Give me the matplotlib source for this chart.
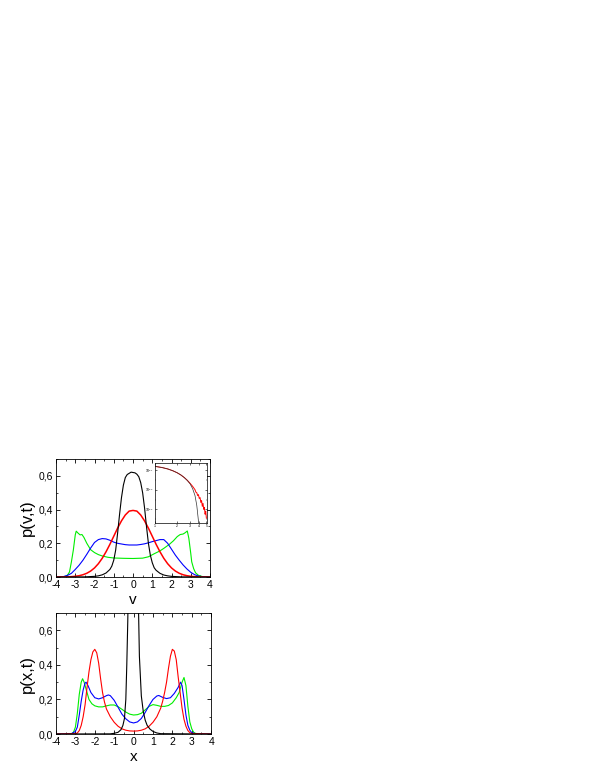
import numpy as np
import matplotlib
matplotlib.use("Agg")
import matplotlib.pyplot as plt
from matplotlib.ticker import FuncFormatter, MultipleLocator, FixedLocator, NullFormatter

plt.rcParams['font.family'] = ['Liberation Sans', 'DejaVu Sans']
plt.rcParams['axes.unicode_minus'] = False

# ---------------- top panel: p(v,t) ----------------
v_black = [-4, -2.5, -2.0, -1.8, -1.6, -1.4, -1.2, -1.1, -1.0, -0.9, -0.8, -0.7, -0.6, -0.5, -0.4, -0.3, -0.2, -0.1, 0.0,
           0.1, 0.2, 0.3, 0.4, 0.5, 0.6, 0.7, 0.8, 0.9, 1.0, 1.1, 1.2, 1.4, 1.6, 1.8, 2.0, 2.5, 4]
p_black = [0, 0.001, 0.004, 0.007, 0.013, 0.024, 0.045, 0.065, 0.10, 0.16, 0.26, 0.37, 0.47, 0.545, 0.59, 0.608, 0.615, 0.622, 0.62,
           0.618, 0.61, 0.595, 0.56, 0.50, 0.41, 0.30, 0.20, 0.13, 0.085, 0.055, 0.04, 0.022, 0.012, 0.007, 0.004, 0.001, 0]

v_red = [-4.0, -3.8, -3.6, -3.4, -3.2, -3.0, -2.8, -2.6, -2.4, -2.2, -2.0, -1.8, -1.6, -1.4, -1.2, -1.0, -0.8, -0.6, -0.4, -0.2, 0.0,
         0.2, 0.4, 0.6, 0.8, 1.0, 1.2, 1.4, 1.6, 1.8, 2.0, 2.2, 2.4, 2.6, 2.8, 3.0, 3.2, 3.4, 3.6, 3.8, 4.0]
p_red = [0.0001, 0.0003, 0.0006, 0.0012, 0.0024, 0.0044, 0.0079, 0.0136, 0.0224, 0.0355, 0.054, 0.079, 0.111, 0.150, 0.194, 0.242,
         0.290, 0.333, 0.368, 0.391, 0.395, 0.391, 0.368, 0.333, 0.290, 0.242, 0.194, 0.150, 0.111, 0.079, 0.054, 0.0355, 0.0224,
         0.0136, 0.0079, 0.0044, 0.0024, 0.0012, 0.0006, 0.0003, 0.0001]

v_blue = [-4.0, -3.6, -3.4, -3.2, -3.0, -2.8, -2.6, -2.4, -2.2, -2.0, -1.8, -1.6, -1.4, -1.2, -1.0, -0.8, -0.6, -0.4, -0.2, 0.0,
          0.2, 0.4, 0.6, 0.8, 1.0, 1.2, 1.4, 1.6, 1.8, 2.0, 2.2, 2.4, 2.6, 2.8, 3.0, 3.2, 3.4, 3.6, 4.0]
p_blue = [0, 0.003, 0.01, 0.022, 0.045, 0.07, 0.10, 0.135, 0.172, 0.205, 0.222, 0.228, 0.226, 0.218, 0.207, 0.20, 0.196, 0.192, 0.19, 0.19,
          0.19, 0.193, 0.197, 0.203, 0.21, 0.216, 0.222, 0.222, 0.20, 0.165, 0.13, 0.10, 0.072, 0.048, 0.028, 0.014, 0.006, 0.002, 0]

v_green = [-4.0, -3.6, -3.5, -3.4, -3.3, -3.2, -3.1, -3.0, -2.95, -2.85, -2.75, -2.65, -2.55, -2.4, -2.2, -2.0, -1.8, -1.6, -1.3,
           -1.0, -0.5, 0.0, 0.5, 0.8, 1.1, 1.4, 1.6, 1.9, 2.1, 2.3, 2.45, 2.6, 2.7, 2.82, 2.9, 3.0, 3.05, 3.15, 3.25, 3.4, 3.6, 4.0]
p_green = [0, 0.002, 0.005, 0.012, 0.03, 0.09, 0.16, 0.25, 0.272, 0.26, 0.25, 0.252, 0.235, 0.20, 0.162, 0.145, 0.133, 0.125, 0.117,
           0.113, 0.111, 0.11, 0.112, 0.12, 0.138, 0.155, 0.17, 0.195, 0.215, 0.24, 0.252, 0.255, 0.262, 0.273, 0.23, 0.14, 0.09, 0.05,
           0.025, 0.01, 0.003, 0]

# ---------------- inset: log-log tail ----------------
vi_red = [1.0, 1.25, 1.5, 1.75, 2.0, 2.25, 2.5, 2.75, 3.0, 3.25, 3.5, 3.6, 3.7, 3.8, 3.9, 4.0, 4.1, 4.2, 4.3, 4.4, 4.5, 4.6, 4.7,
          4.8, 4.9, 5.0]
lp_red = [-0.62, -0.74, -0.89, -1.07, -1.27, -1.50, -1.76, -2.04, -2.35, -2.66, -3.0, -3.25, -3.3, -3.6, -3.5, -3.9, -3.8, -4.3,
          -4.1, -4.7, -4.4, -5.0, -4.8, -5.5, -5.2, -5.9]
vi_black = [1.0, 1.25, 1.5, 1.75, 2.0, 2.25, 2.5, 2.75, 3.0, 3.25, 3.5, 3.7, 3.85, 3.95]
lp_black = [-0.62, -0.74, -0.89, -1.07, -1.27, -1.50, -1.76, -2.06, -2.40, -2.90, -3.60, -4.60, -5.80, -6.6]

# ---------------- bottom panel: p(x,t) ----------------
x_black = [-4.0, -1.2, -1.0, -0.8, -0.65, -0.55, -0.47, -0.4, -0.35, -0.3, -0.25, 0.0, 0.2, 0.25, 0.3, 0.4, 0.5, 0.6, 0.7, 0.85,
           1.0, 1.2, 1.4, 4.0]
q_black = [0, 0.001, 0.004, 0.01, 0.025, 0.05, 0.09, 0.2, 0.4, 0.65, 1.0, 1.5, 1.0, 0.75, 0.45, 0.22, 0.13, 0.08, 0.05, 0.028,
           0.015, 0.006, 0.002, 0]

x_red = [-4.0, -3.0, -2.9, -2.8, -2.7, -2.6, -2.5, -2.4, -2.3, -2.2, -2.1, -2.0, -1.9, -1.8, -1.7, -1.6, -1.5, -1.4, -1.2, -1.0,
         -0.8, -0.6, -0.4, -0.2, 0.0, 0.2, 0.4, 0.6, 0.8, 1.0, 1.2, 1.4, 1.5, 1.6, 1.7, 1.8, 1.9, 2.0, 2.1, 2.2, 2.3, 2.4, 2.5,
         2.6, 2.7, 2.8, 2.9, 3.0, 4.0]
q_red = [0, 0.002, 0.006, 0.02, 0.05, 0.10, 0.17, 0.27, 0.36, 0.43, 0.475, 0.49, 0.47, 0.41, 0.32, 0.24, 0.185, 0.145, 0.10, 0.068,
         0.045, 0.03, 0.022, 0.018, 0.017, 0.018, 0.022, 0.03, 0.045, 0.068, 0.10, 0.15, 0.19, 0.24, 0.30, 0.38, 0.45, 0.49, 0.48,
         0.43, 0.33, 0.24, 0.15, 0.085, 0.045, 0.02, 0.008, 0.003, 0]

x_blue = [-4.0, -3.2, -3.0, -2.9, -2.8, -2.7, -2.6, -2.5, -2.45, -2.35, -2.2, -2.0, -1.8, -1.6, -1.4, -1.3, -1.2, -1.0, -0.8, -0.6,
          -0.4, -0.2, 0.0, 0.2, 0.4, 0.6, 0.8, 1.0, 1.2, 1.3, 1.5, 1.7, 1.9, 2.1, 2.3, 2.42, 2.5, 2.6, 2.7, 2.8, 2.9, 3.0, 3.2, 4.0]
q_blue = [0, 0.002, 0.015, 0.04, 0.11, 0.19, 0.255, 0.295, 0.30, 0.28, 0.24, 0.21, 0.203, 0.21, 0.222, 0.226, 0.222, 0.195, 0.155,
          0.115, 0.088, 0.07, 0.064, 0.07, 0.09, 0.125, 0.165, 0.20, 0.22, 0.223, 0.212, 0.205, 0.21, 0.235, 0.27, 0.30, 0.28, 0.20,
          0.11, 0.05, 0.022, 0.008, 0.002, 0]

x_green = [-4.0, -3.2, -3.1, -3.0, -2.9, -2.8, -2.7, -2.63, -2.55, -2.45, -2.3, -2.15, -2.0, -1.8, -1.6, -1.4, -1.2, -1.0, -0.8,
           -0.6, -0.4, -0.2, 0.0, 0.2, 0.4, 0.6, 0.8, 1.0, 1.2, 1.4, 1.6, 1.8, 2.0, 2.2, 2.35, 2.5, 2.6, 2.7, 2.8, 2.9, 3.0, 3.1,
           3.2, 4.0]
q_green = [0, 0.002, 0.01, 0.04, 0.12, 0.23, 0.30, 0.32, 0.30, 0.26, 0.20, 0.175, 0.163, 0.157, 0.157, 0.163, 0.168, 0.168, 0.158,
           0.143, 0.127, 0.115, 0.11, 0.112, 0.12, 0.14, 0.16, 0.17, 0.166, 0.16, 0.16, 0.165, 0.18, 0.21, 0.24, 0.30, 0.327, 0.28,
           0.16, 0.07, 0.03, 0.01, 0.003, 0]

xticks = [-4, -3, -2, -1, 0, 1, 2, 3, 4]
yticks = [0.0, 0.2, 0.4, 0.6]

comma = FuncFormatter(lambda val, pos: f"{val:.1f}".replace('.', ','))

fig = plt.figure(figsize=(5.99, 7.76), dpi=100)
ax1 = fig.add_axes([0.0935, 0.2564, 0.2571, 0.1521])
ax2 = fig.add_axes([0.0935, 0.0541, 0.2590, 0.1559])

lw = 0.8
ax1.plot(v_green, p_green, color='#00ee00', lw=lw)
ax1.plot(v_blue, p_blue, color='#0000ff', lw=lw)
ax1.plot(v_red, p_red, color='#ff0000', lw=1.1)
ax1.plot(v_black, p_black, color='black', lw=lw)

ax2.plot(x_green, q_green, color='#00ee00', lw=lw)
ax2.plot(x_blue, q_blue, color='#0000ff', lw=lw)
ax2.plot(x_red, q_red, color='#ff0000', lw=lw)
ax2.plot(x_black, q_black, color='black', lw=lw)

for ax, xl, yl in [(ax1, 'v', 'p(v,t)'), (ax2, 'x', 'p(x,t)')]:
    ax.set_xlim(-4, 4)
    ax.set_ylim(0, 0.7)
    ax.set_xticks(xticks)
    ax.set_yticks(yticks)
    ax.xaxis.set_minor_locator(MultipleLocator(0.5))
    ax.yaxis.set_minor_locator(MultipleLocator(0.1))
    ax.yaxis.set_major_formatter(comma)
    ax.tick_params(which='both', direction='in', top=True, right=True, labelsize=7.5, pad=2)
    ax.tick_params(which='major', length=3, width=0.6)
    ax.tick_params(which='minor', length=1.6, width=0.5)
    for s in ax.spines.values():
        s.set_linewidth(0.6)
    ax.set_xlabel(xl, fontsize=11, labelpad=2)
    ax.set_ylabel(yl, fontsize=12, labelpad=3)

# inset
axi = fig.add_axes([0.2588, 0.326, 0.0868, 0.0773])
axi.plot(vi_red, [10 ** a for a in lp_red], color='#ff0000', lw=0.7)
axi.plot(vi_black, [10 ** a for a in lp_black], color='#333333', lw=0.5)
axi.set_xscale('log')
axi.set_yscale('log')
axi.set_xlim(1, 5.1)
axi.set_ylim(10 ** -6.4, 10 ** -0.28)
axi.xaxis.set_major_locator(FixedLocator([1, 2, 3, 4, 5]))
axi.xaxis.set_major_formatter(FuncFormatter(lambda val, pos: f"{val:g}"))
axi.xaxis.set_minor_formatter(NullFormatter())
axi.yaxis.set_major_locator(FixedLocator([1e-1, 1e-3, 1e-5]))
axi.yaxis.set_minor_locator(FixedLocator([1e-2, 1e-4, 1e-6]))
axi.yaxis.set_minor_formatter(NullFormatter())
axi.tick_params(which='both', direction='in', top=True, right=True, labelsize=2.5, pad=1)
axi.tick_params(which='major', length=1.5, width=0.4)
axi.tick_params(which='minor', length=0.8, width=0.3)
for s in axi.spines.values():
    s.set_linewidth(0.5)

fig.savefig('out.png', dpi=100)
